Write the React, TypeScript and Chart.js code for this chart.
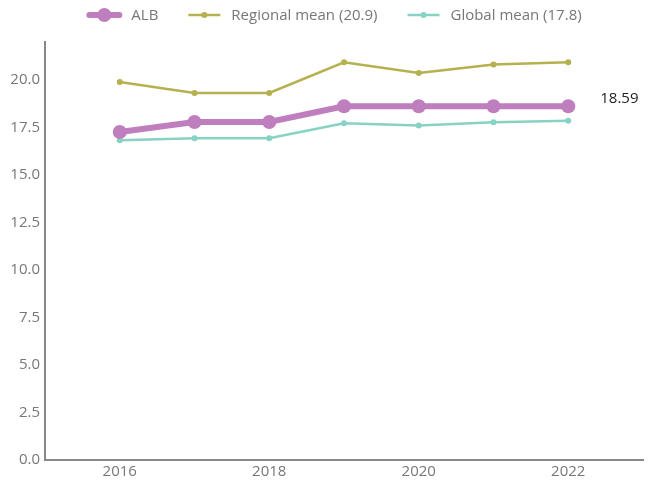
import React, { useEffect, useRef } from "react";
import { Chart, registerables } from "chart.js";

Chart.register(...registerables);

const years = [2016, 2017, 2018, 2019, 2020, 2021, 2022];
const albValues = [17.26, 17.79, 17.79, 18.62, 18.62, 18.62, 18.62];
const regionalValues = [19.89, 19.32, 19.32, 20.93, 20.37, 20.81, 20.93];
const globalValues = [16.83, 16.93, 16.93, 17.72, 17.61, 17.77, 17.86];
const seriesLabels = ["ALB", "Regional mean (20.9)", "Global mean (17.8)"];
const xTickValues = [2016, 2018, 2020, 2022];
const yTickValues = [0, 2.5, 5, 7.5, 10, 12.5, 15, 17.5, 20];
const lastLabel = "18.59";

const COLORS = ["#BF7EBD", "#B5B14F", "#87D3C3"];
const FONT = "'Open Sans', 'Noto Sans', sans-serif";

const legendPlugin = {
  id: "customLegend",
  afterDraw(chart: any) {
    const ctx = chart.ctx;
    ctx.save();
    ctx.font = `15px ${FONT}`;
    const lineW = 32;
    const textOff = 43;
    const gap = 30;
    const widths = seriesLabels.map((t) => ctx.measureText(t).width);
    const total = widths.reduce((a, w) => a + textOff + w, 0) + gap * (seriesLabels.length - 1);
    let x = 335 - total / 2;
    const y = 15;
    seriesLabels.forEach((label, i) => {
      ctx.strokeStyle = COLORS[i];
      ctx.fillStyle = COLORS[i];
      ctx.lineWidth = i === 0 ? 6 : 2.5;
      ctx.lineCap = i === 0 ? "round" : "butt";
      ctx.beginPath();
      ctx.moveTo(x + (i === 0 ? 1 : 0), y);
      ctx.lineTo(x + lineW - (i === 0 ? 1 : 0), y);
      ctx.stroke();
      ctx.beginPath();
      ctx.arc(x + lineW / 2, y, i === 0 ? 7 : 3, 0, Math.PI * 2);
      ctx.fill();
      ctx.fillStyle = "#777777";
      ctx.textBaseline = "middle";
      ctx.textAlign = "left";
      ctx.fillText(label, x + textOff, y + 1);
      x += textOff + widths[i] + gap;
    });
    ctx.restore();
  },
};

const endLabelPlugin = {
  id: "endLabel",
  afterDatasetsDraw(chart: any) {
    const meta = chart.getDatasetMeta(0);
    const pt = meta.data[meta.data.length - 1];
    if (!pt) return;
    const ctx = chart.ctx;
    ctx.save();
    ctx.font = `15px ${FONT}`;
    ctx.fillStyle = "#222222";
    ctx.textBaseline = "middle";
    ctx.textAlign = "left";
    ctx.fillText(lastLabel, pt.x + 32, pt.y - 7);
    ctx.restore();
  },
};

export default function App() {
  const ref = useRef<HTMLCanvasElement>(null);
  useEffect(() => {
    document.body.style.margin = "0";
    const toPts = (vals: number[]) => years.map((x, i) => ({ x, y: vals[i] }));
    const chart = new Chart(ref.current!, {
      type: "line",
      data: {
        datasets: [
          {
            label: seriesLabels[0],
            data: toPts(albValues),
            borderColor: COLORS[0],
            backgroundColor: COLORS[0],
            borderWidth: 6,
            pointRadius: 7,
            pointHoverRadius: 7,
            pointBorderWidth: 0,
          },
          {
            label: seriesLabels[1],
            data: toPts(regionalValues),
            borderColor: COLORS[1],
            backgroundColor: COLORS[1],
            borderWidth: 2.5,
            pointRadius: 3,
            pointBorderWidth: 0,
          },
          {
            label: seriesLabels[2],
            data: toPts(globalValues),
            borderColor: COLORS[2],
            backgroundColor: COLORS[2],
            borderWidth: 2.5,
            pointRadius: 3,
            pointBorderWidth: 0,
          },
        ],
      },
      options: {
        responsive: false,
        animation: false,
        layout: { padding: { top: 42, right: 5, left: 0, bottom: 0 } },
        plugins: { legend: { display: false }, tooltip: { enabled: false } },
        scales: {
          x: {
            type: "linear",
            min: 2015,
            max: 2023,
            grid: { display: false, drawTicks: false },
            border: { display: true, color: "#888888", width: 2 },
            afterBuildTicks: (s: any) => {
              s.ticks = xTickValues.map((v) => ({ value: v }));
            },
            afterFit: (s: any) => {
              s.height = 21;
            },
            ticks: {
              padding: 3,
              color: "#777777",
              font: { family: FONT, size: 15 },
              maxRotation: 0,
              callback: (v: any) => String(v),
            },
          },
          y: {
            min: 0,
            max: 22,
            grid: { display: false, drawTicks: false },
            border: { display: true, color: "#888888", width: 2 },
            afterBuildTicks: (s: any) => {
              s.ticks = yTickValues.map((v) => ({ value: v }));
            },
            afterFit: (s: any) => {
              s.width = 45;
            },
            ticks: {
              padding: 5,
              color: "#777777",
              font: { family: FONT, size: 15 },
              callback: (v: any) => Number(v).toFixed(1),
            },
          },
        },
      },
      plugins: [legendPlugin, endLabelPlugin],
    });
    return () => chart.destroy();
  }, []);
  return (
    <div style={{ width: 650, height: 481 }}>
      <canvas ref={ref} width={650} height={481} style={{ display: "block" }} />
    </div>
  );
}
